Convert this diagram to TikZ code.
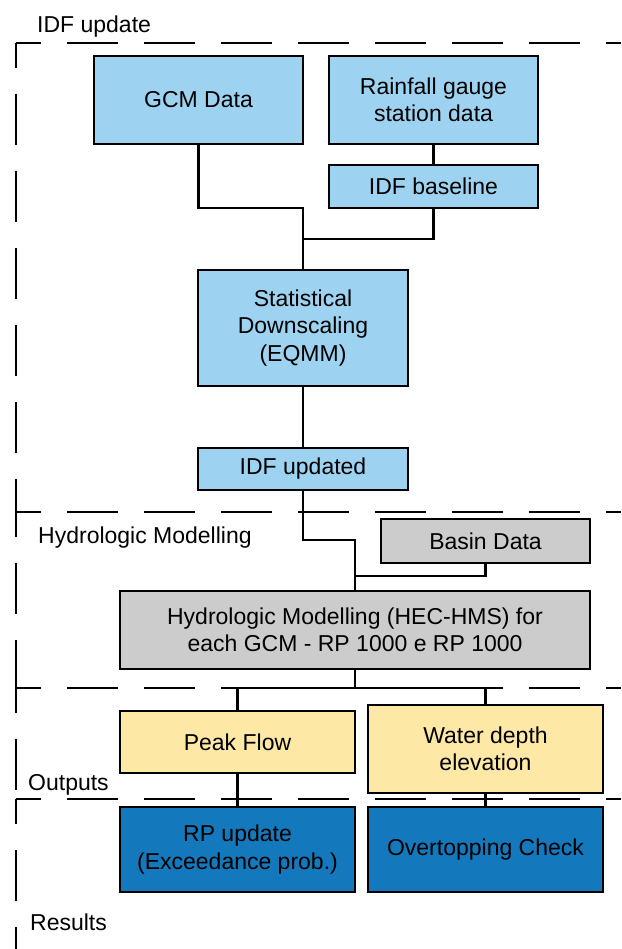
\documentclass[tikz,border=0pt]{standalone}
\usepackage{fontspec}
\setmainfont{Liberation Sans}
\definecolor{lblue}{HTML}{9DD3F1}
\definecolor{lgray}{HTML}{CCCCCC}
\definecolor{lyel}{HTML}{FDE8A6}
\definecolor{dblue}{HTML}{1478BC}
\begin{document}
\begin{tikzpicture}[x=1pt,y=-1pt,
  box/.style={draw=black,line width=2.4pt,inner sep=0pt,align=center,
    font=\fontsize{23}{27.5}\selectfont},
  bluebox/.style={box,fill=lblue},
  graybox/.style={box,fill=lgray},
  yelbox/.style={box,fill=lyel},
  darkbox/.style={box,fill=dblue},
  conn/.style={draw=black,line width=2.2pt},
  sect/.style={draw=black,line width=2.2pt,dash pattern=on 51pt off 26pt,dash phase=26pt},
  lab/.style={anchor=west,inner sep=0pt,font=\fontsize{23}{27.5}\selectfont}]
\useasboundingbox[fill=white] (0,0) rectangle (621,949);

% section frames
\draw[sect] (16,43) -- (621,43);
\draw[sect] (16,43) -- (16,512);
\draw[sect] (16,512) -- (621,512);
\draw[sect] (16,512) -- (16,688);
\draw[sect] (16,688) -- (621,688);
\draw[sect] (16,688) -- (16,799);
\draw[sect] (16,799) -- (621,799);
\draw[sect] (16,799) -- (16,949);

\node[lab] (l1) at (37,27) {IDF update};
\node[lab] (l2) at (38,538) {Hydrologic Modelling};
\node[lab] (l3) at (28,785) {Outputs};
\node[lab] (l4) at (30,922) {Results};

% boxes
\node[bluebox,minimum width=209pt,minimum height=88pt] (gcm) at (198.5,100) {GCM Data};
\node[bluebox,minimum width=209pt,minimum height=88pt] (rain) at (433.5,100) {Rainfall gauge\\station data};
\node[bluebox,minimum width=209pt,minimum height=43pt] (base) at (433.5,186.5) {IDF baseline};
\node[bluebox,minimum width=210pt,minimum height=116pt] (stat) at (303,328) {Statistical\\Downscaling\\(EQMM)};
\node[bluebox,minimum width=210pt,minimum height=42pt] (upd) at (303,469) {IDF updated};
\node[graybox,minimum width=209pt,minimum height=44pt] (basin) at (485.5,541) {Basin Data};
\node[graybox,minimum width=470pt,minimum height=78pt] (hec) at (355,630) {Hydrologic Modelling (HEC-HMS) for\\each GCM - RP 1000 e RP 1000};
\node[yelbox,minimum width=235pt,minimum height=62pt] (peak) at (237.5,742) {Peak Flow};
\node[yelbox,minimum width=235pt,minimum height=88pt] (water) at (485.5,749) {Water depth\\elevation};
\node[darkbox,minimum width=235pt,minimum height=85pt] (rp) at (237.5,849.5) {RP update\\(Exceedance prob.)};
\node[darkbox,minimum width=235pt,minimum height=85pt] (over) at (485.5,849.5) {Overtopping Check};

% junction coordinates
\coordinate (j1) at (303,239);
\coordinate (j2) at (355,576);
\coordinate (j3) at (355,688);

% connectors
\draw[conn] (gcm.south) -- ++(0,63) -| (stat.north);
\draw[conn] (rain.south) -- (base.north);
\draw[conn] (base.south) |- (j1);
\draw[conn] (stat.south) -- (upd.north);
\draw[conn] (upd.south) -- ++(0,49) -| (hec.north);
\draw[conn] (basin.south) |- (j2);
\draw[conn] (hec.south) -- (j3);
\draw[conn] (peak.north) |- (j3) -| (water.north);
\draw[conn] (peak.south) -- (rp.north);
\draw[conn] (water.south) -- (over.north);
\end{tikzpicture}
\end{document}
